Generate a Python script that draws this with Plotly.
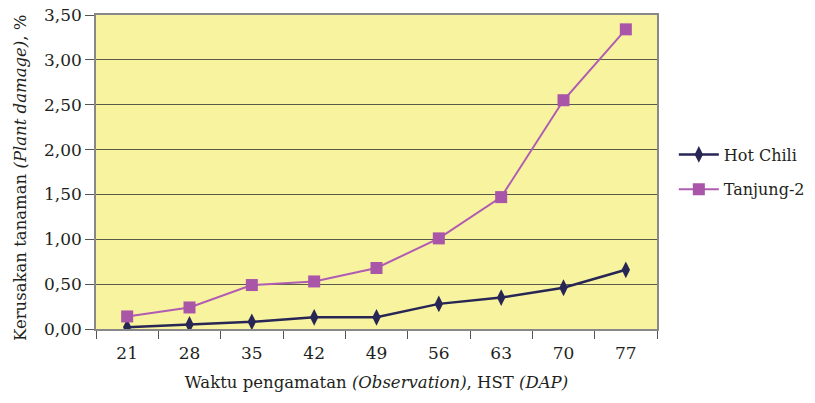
import plotly.graph_objects as go

days = ["21", "28", "35", "42", "49", "56", "63", "70", "77"]
hot_chili = [0.02, 0.05, 0.08, 0.13, 0.13, 0.28, 0.35, 0.46, 0.66]
tanjung2 = [0.14, 0.24, 0.49, 0.53, 0.68, 1.01, 1.47, 2.55, 3.34]
y_ticks = [0, 0.5, 1.0, 1.5, 2.0, 2.5, 3.0, 3.5]

font_family = "DejaVu Serif"
txt = "#231f20"

fig = go.Figure()
fig.add_trace(go.Scatter(
    x=days, y=hot_chili, name="Hot Chili", mode="lines+markers",
    legendgroup="a",
    line=dict(color="#272655", width=2.5),
    marker=dict(symbol="diamond-tall", size=12, color="#272655"),
))
fig.add_trace(go.Scatter(
    x=days, y=tanjung2, name="Tanjung-2", mode="lines+markers",
    legendgroup="b",
    line=dict(color="#b05cb2", width=2),
    marker=dict(symbol="square", size=12, color="#a955a8"),
))

fig.update_layout(
    width=815, height=403,
    margin=dict(l=96, r=158, t=15, b=74, autoexpand=False),
    paper_bgcolor="white",
    plot_bgcolor="#f8f39f",
    separators=",.",
    font=dict(family=font_family, size=16, color=txt),
    showlegend=True,
    legend=dict(x=1.03, y=0.5, xanchor="left", yanchor="middle",
                font=dict(family=font_family, size=16, color=txt),
                bgcolor="rgba(0,0,0,0)", tracegroupgap=11, itemwidth=40),
    xaxis=dict(
        type="category", tickson="boundaries", ticks="outside", ticklen=8,
        tickcolor="#555", showline=True, linecolor="#888", linewidth=1.5,
        mirror=True, showgrid=False, range=[-0.5, 8.5], automargin=False,
        ticklabelstandoff=8,
        tickfont=dict(family=font_family, size=17, color=txt),
        title=dict(text="Waktu pengamatan <i>(Observation)</i>, HST <i>(DAP)</i>",
                   font=dict(family=font_family, size=16.5, color=txt), standoff=14),
    ),
    yaxis=dict(
        range=[0, 3.5], tickvals=y_ticks, tickformat=".2f",
        ticks="outside", ticklen=9, tickcolor="#555", ticklabeloverflow="allow",
        showline=True, linecolor="#888", linewidth=1.5, mirror=True,
        showgrid=True, gridcolor="#5a5a48", gridwidth=1,
        zeroline=False, automargin=False,
        tickfont=dict(family=font_family, size=17, color=txt),
    ),
    annotations=[dict(
        text="Kerusakan tanaman <i>(Plant damage)</i>, %",
        xref="paper", yref="paper", x=(20 - 96) / 561, y=(329 - 178) / 314,
        xanchor="center", yanchor="middle", textangle=-90, showarrow=False,
        font=dict(family=font_family, size=16.5, color=txt),
    )],
)

fig.write_html("out.html", config={"displayModeBar": False},
               post_script="document.body.style.margin='0';")
